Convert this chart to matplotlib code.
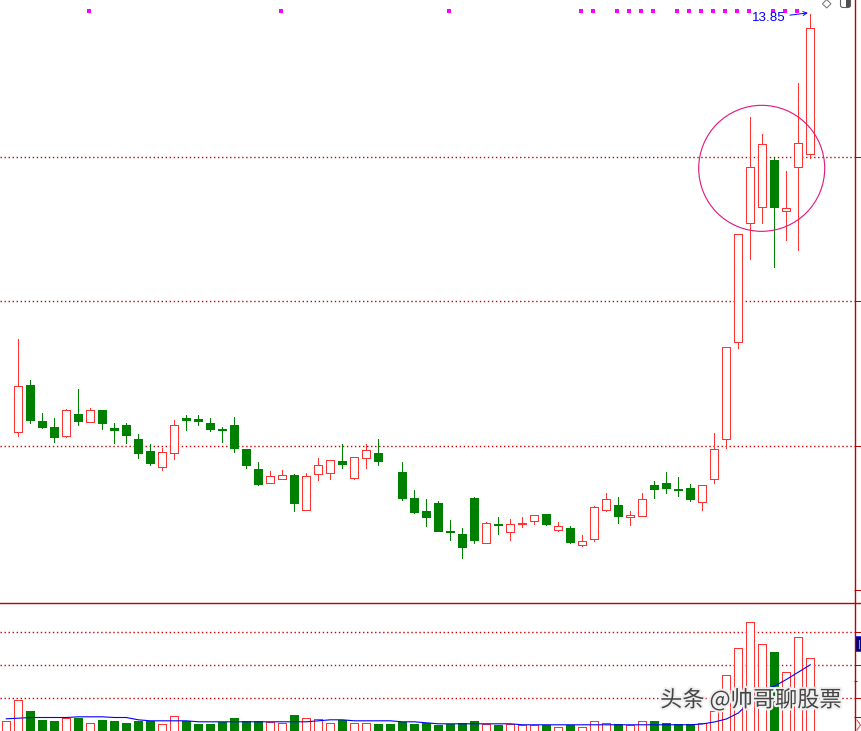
import matplotlib
matplotlib.use("Agg")
import matplotlib.pyplot as plt
import matplotlib.patheffects as pe
import numpy as np
from matplotlib.lines import Line2D
from matplotlib.patches import Rectangle, Ellipse, Polygon, FancyBboxPatch

# 日K数据: 第0天和第32天只有成交量, 没有K线
opens = [np.nan, 9.87, 10.32, 9.97, 9.92, 9.83, 10.04, 9.96, 10.08, 9.91, 9.94,
         9.80, 9.69, 9.54, 9.67, 10.00, 9.99, 9.95, 9.90, 9.94, 9.71,
         9.52, 9.38, 9.42, 9.46, 9.13, 9.47, 9.48, 9.59, 9.43, 9.62,
         9.67, np.nan, 9.49, 9.24, 9.12, 9.19, 8.93, 8.90, 9.24, 8.81,
         8.99, 8.92, 8.99, 9.02, 9.09, 8.94, 8.95, 8.79, 8.85, 9.13,
         9.17, 9.06, 9.07, 9.36, 9.38, 9.33, 9.34, 9.20, 9.42, 9.80,
         10.73, 11.86, 12.01, 12.46, 11.97, 12.39, 12.52]
highs = [np.nan, 10.75, 10.36, 10.05, 10.00, 10.09, 10.28, 10.10, 10.08, 9.95, 9.95,
         9.85, 9.75, 9.72, 9.98, 10.03, 10.03, 10.00, 9.92, 10.01, 9.71,
         9.58, 9.50, 9.51, 9.47, 9.48, 9.62, 9.60, 9.75, 9.63, 9.75,
         9.80, np.nan, 9.58, 9.32, 9.23, 9.21, 9.03, 8.95, 9.25, 9.01,
         9.06, 9.04, 9.06, 9.08, 9.09, 9.01, 8.97, 8.89, 9.16, 9.29,
         9.25, 9.12, 9.29, 9.40, 9.49, 9.44, 9.37, 9.36, 9.86, 10.68,
         11.75, 12.87, 12.71, 12.48, 12.35, 13.19, 13.85]
lows = [np.nan, 9.83, 9.95, 9.91, 9.77, 9.82, 9.94, 9.96, 9.90, 9.76, 9.76,
        9.62, 9.55, 9.51, 9.61, 9.89, 9.94, 9.88, 9.77, 9.68, 9.53,
        9.36, 9.38, 9.42, 9.12, 9.13, 9.41, 9.42, 9.53, 9.42, 9.53,
        9.55, np.nan, 9.22, 9.10, 8.97, 8.93, 8.84, 8.67, 8.81, 8.81,
        8.90, 8.84, 8.96, 8.99, 8.98, 8.93, 8.81, 8.78, 8.83, 9.12,
        9.00, 8.98, 9.07, 9.24, 9.29, 9.26, 9.21, 9.13, 9.38, 9.72,
        10.67, 11.52, 11.86, 11.44, 11.70, 11.60, 12.48]
closes = [np.nan, 10.31, 9.98, 9.92, 9.82, 10.08, 9.97, 10.08, 9.95, 9.89, 9.84,
          9.67, 9.57, 9.68, 9.94, 9.98, 9.97, 9.90, 9.89, 9.72, 9.55,
          9.37, 9.45, 9.46, 9.19, 9.45, 9.55, 9.60, 9.56, 9.63, 9.70,
          9.59, np.nan, 9.24, 9.11, 9.06, 8.93, 8.92, 8.77, 8.84, 9.00,
          8.98, 8.99, 9.00, 9.08, 8.99, 8.97, 8.82, 8.83, 9.15, 9.23,
          9.07, 9.08, 9.23, 9.33, 9.34, 9.32, 9.23, 9.36, 9.71, 10.68,
          11.75, 12.39, 12.61, 12.01, 12.00, 12.62, 13.72]
volume = [2.94, 9.30, 5.76, 3.33, 3.03, 3.94, 3.64, 2.33, 3.33, 2.73, 2.42,
          3.03, 2.94, 2.03, 4.45, 2.94, 1.82, 2.12, 2.52, 3.94, 3.03,
          3.03, 2.52, 2.33, 4.55, 3.85, 3.55, 2.33, 3.12, 2.33, 2.33,
          2.12, 2.12, 2.52, 1.82, 2.33, 1.52, 1.91, 2.42, 3.03, 1.82,
          1.52, 1.82, 1.52, 1.52, 1.73, 1.21, 1.73, 1.21, 2.94, 2.33,
          2.12, 1.52, 2.73, 3.03, 2.42, 1.91, 1.91, 2.21, 6.06, 16.88,
          25.06, 32.94, 26.27, 23.73, 17.79, 28.39, 22.03]
vol_ma10 = [3.55, 3.73, 3.94, 3.94, 3.94, 3.94, 4.15, 4.15, 4.15, 3.94, 3.94,
            3.24, 2.94, 2.94, 2.94, 2.94, 2.64, 2.64, 2.64, 2.64, 2.64,
            2.64, 2.64, 2.64, 2.64, 2.64, 2.94, 3.24, 3.24, 2.94, 2.94,
            2.94, 2.94, 2.64, 2.64, 2.33, 2.03, 2.03, 2.03, 2.03, 2.03,
            2.03, 2.03, 1.73, 1.73, 1.73, 1.73, 1.73, 1.73, 1.73, 1.73,
            1.73, 1.73, 1.73, 1.73, 1.73, 1.73, 1.73, 1.97, 2.58, 3.48,
            5.30, 8.79, 12.42, 13.42, 15.45, 17.67, 19.91]
no_candle_up = {0: True, 32: False}
signal_days = [7, 23, 37, 48, 49, 51, 52, 53, 54, 56, 57, 58, 59, 60, 61, 62, 64, 65, 66]
price_ticks = [12.49, 11.12, 9.74, 8.36]
price_grid = [12.49, 11.12, 9.74]
vol_grid = [10, 20, 30]

RED = '#FF3232'
GREEN = '#008000'
AXRED = '#C00000'
GRID = '#CC0000'
LW = 0.6

W, H = 861, 731
fig = plt.figure(figsize=(W / 100, H / 100), dpi=100)


def fbox(x0, y0, x1, y1):
    return [x0 / W, 1 - y1 / H, (x1 - x0) / W, (y1 - y0) / H]


def px(x, y):
    return (x / W, 1 - y / H)


ax = fig.add_axes(fbox(0, 0, 854, 602))
axv = fig.add_axes(fbox(0, 602, 854, 731))
xlim = (-0.525, -0.525 + 854 / 12)
for a in (ax, axv):
    a.set_xlim(*xlim)
    for s in a.spines.values():
        s.set_visible(False)
    a.set_xticks([])
    a.yaxis.tick_right()
    a.tick_params(axis='y', direction='out', length=4.8, width=0.75, color=AXRED,
                  labelright=False, labelleft=False)
ax.set_ylim(8.25, 13.983)
axv.set_ylim(-0.15, 38.94)

# 网格
for g in price_grid:
    ax.axhline(g, color=GRID, lw=1.0, ls=(0, (1, 1.9)), zorder=0)
for g in vol_grid:
    axv.axhline(g, color=GRID, lw=1.0, ls=(0, (1, 1.9)), zorder=0)
ax.set_yticks(price_ticks)
axv.set_yticks([4, 10, 20, 30])
axv.set_yticks([15], minor=True)
axv.tick_params(axis='y', which='minor', direction='out', length=2.2, width=0.75,
                color=AXRED, labelright=False)

# K线
for i in range(len(opens)):
    o, h, l, c = opens[i], highs[i], lows[i], closes[i]
    if np.isnan(o):
        continue
    if c >= o:
        ax.vlines(i, l, o, color=RED, lw=LW, antialiased=False, zorder=2)
        ax.vlines(i, c, h, color=RED, lw=LW, antialiased=False, zorder=2)
        ax.add_patch(Rectangle((i - 0.32, o), 0.64, max(c - o, 0.008), fc='white',
                               ec=RED, lw=LW, antialiased=False, zorder=3))
    else:
        ax.vlines(i, l, h, color=GREEN, lw=LW, antialiased=False, zorder=2)
        ax.add_patch(Rectangle((i - 0.33, c), 0.66, o - c, fc=GREEN, ec=GREEN,
                               lw=LW, antialiased=False, zorder=3))

# 成交量
for i, v in enumerate(volume):
    up = no_candle_up[i] if i in no_candle_up else closes[i] >= opens[i]
    if up:
        axv.add_patch(Rectangle((i - 0.32, 0), 0.64, v, fc='white', ec=RED, lw=LW,
                                antialiased=False, zorder=2))
    else:
        axv.add_patch(Rectangle((i - 0.33, 0), 0.66, v, fc=GREEN, ec=GREEN, lw=LW,
                                antialiased=False, zorder=2))
axv.plot(range(len(vol_ma10)), vol_ma10, color='#0000FF', lw=0.8, zorder=4)

# 信号点
ax.scatter(np.array(signal_days) - 0.08, [1 - 11.3 / 602] * len(signal_days),
           transform=ax.get_xaxis_transform(), marker='s', s=5, color='#FF00FF',
           linewidths=0, zorder=5, clip_on=False)

# 最高价标注
last = len(highs) - 1
ax.annotate(f'{highs[last]:.2f}', xy=(last - 0.2, highs[last] + 0.01),
            xytext=(-16, -3.5), textcoords='offset points', ha='right', va='center',
            color='#0000FF', fontsize=9.6, family='Liberation Sans',
            arrowprops=dict(arrowstyle='->', color='#0000FF', lw=0.7,
                            shrinkA=1, shrinkB=0, mutation_scale=7), zorder=6)

# 圈
ax.add_patch(Ellipse((62.95, 12.38), 10.5, 1.2, fill=False, ec='#E0157A', lw=0.8,
                     zorder=6))

# 坐标轴边框
fig.add_artist(Line2D([854.5 / W] * 2, [0, 1], color=AXRED, lw=1.0))
fig.add_artist(Line2D([0, 1], [1 - 602.5 / H] * 2, color=AXRED, lw=1.0))

# 右上角小图标
fig.add_artist(Polygon([px(826.7, -0.5), px(831, 3.8), px(826.7, 8), px(822.4, 3.8)],
                       closed=True, fc='white', ec='#707070', lw=0.7))
fig.add_artist(FancyBboxPatch(px(840.5, 7.5), 10 / W, 9 / H,
                              boxstyle='round,pad=0,rounding_size=0.003',
                              fc='white', ec='#606060', lw=0.8))
fig.add_artist(Rectangle(px(845.5, 7), 4.5 / W, 8 / H, fc='#505050', ec='none'))

# 右侧量能标签和箭头
fig.add_artist(Rectangle(px(855, 651), 6 / W, 15 / H, fc='#000080', ec='#3030FF',
                         lw=0.7))
fig.add_artist(Line2D([858.5 / W] * 2, [1 - 640 / H, 1 - 648 / H], color='#9090FF',
                      lw=0.8))
fig.add_artist(Line2D([857 / W, 860.5 / W, 857 / W],
                      [1 - 720 / H, 1 - 725 / H, 1 - 730 / H], color='#E04040',
                      lw=0.7))

# 水印
fig.text(751 / W, 1 - 700 / H, '头条 @帅哥聊股票', fontsize=16, color='#444444',
         family=['Noto Sans CJK SC', 'DejaVu Sans'], ha='center', va='center',
         path_effects=[pe.Stroke(linewidth=3, foreground='#F0F0F0'), pe.Normal()],
         zorder=10)

fig.savefig('out.png', dpi=100, facecolor='white')
